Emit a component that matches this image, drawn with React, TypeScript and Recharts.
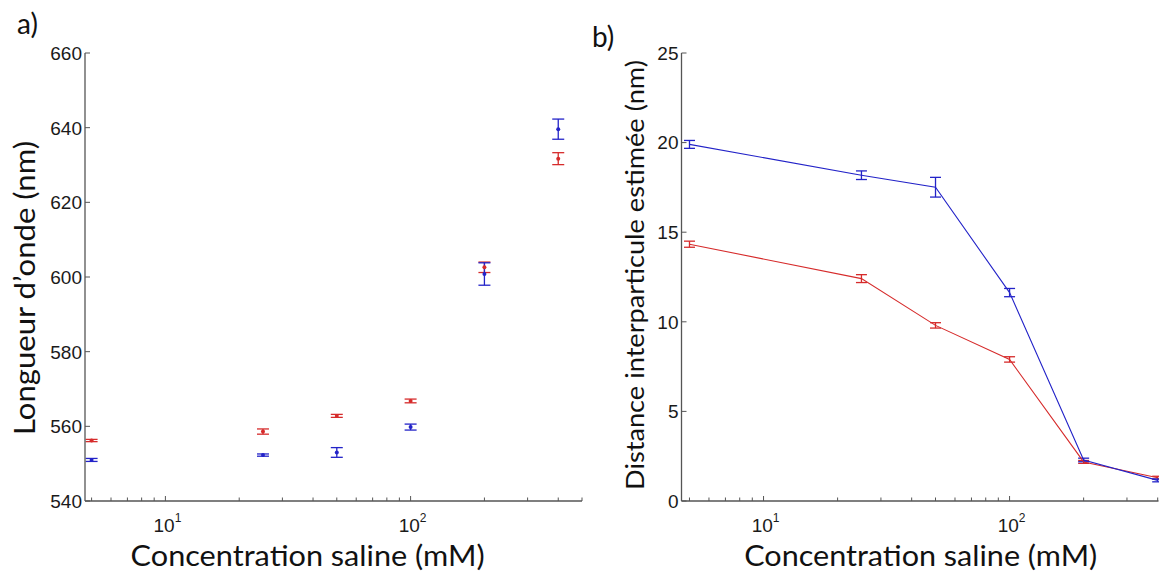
import React from 'react';
import { ComposedChart, Scatter, XAxis, YAxis, ErrorBar } from 'recharts';

// ---- data ----
const concentrations = [5, 25, 50, 100, 200, 400];

const wavelengthRed = [556.2, 558.6, 562.8, 566.8, 602.6, 631.7];
const wavelengthRedErr = [0.3, 0.7, 0.4, 0.5, 1.4, 1.6];
const wavelengthBlue = [551.0, 552.3, 553.0, 559.8, 600.8, 639.6];
const wavelengthBlueErr = [0.4, 0.3, 1.3, 0.8, 3.0, 2.7];

const distanceBlue = [19.9, 18.18, 17.51, 11.63, 2.29, 1.15];
const distanceBlueErr = [0.22, 0.24, 0.55, 0.23, 0.1, 0.08];
const distanceRed = [14.33, 12.41, 9.8, 7.9, 2.18, 1.3];
const distanceRedErr = [0.17, 0.22, 0.15, 0.15, 0.08, 0.08];

const majorXTicks = [10, 100];
const allXTicks = [5, 6, 7, 8, 9, 10, 20, 30, 40, 50, 60, 70, 80, 90, 100, 200, 300, 400, 500];
const wavelengthTicks = [540, 560, 580, 600, 620, 640, 660];
const distanceTicks = [0, 5, 10, 15, 20, 25];

const xLabel = 'Concentration saline (mM)';
const yLabelA = 'Longueur d\u2019onde (nm)';
const yLabelB = 'Distance interparticule estimée (nm)';

// ---- styles ----
const RED = '#d62b2b';
const BLUE = '#2323c8';
const AXIS = '#555555';
const TICK_FONT = 'Liberation Sans, Arial, sans-serif';
const LABEL_FONT = 'Lato, Open Sans, sans-serif';

const mk = (ys: number[], errs: number[]) =>
  concentrations.map((x, i) => ({ x, y: ys[i], err: errs[i] }));

const makeXTick = (side: 'bottom' | 'top') => (props: any) => {
  const { x, y, payload } = props;
  const v = payload.value;
  const major = majorXTicks.includes(v);
  const len = major ? 5 : 3.5;
  const dir = side === 'bottom' ? -1 : 1;
  const exp = Math.round(Math.log10(v));
  return (
    <g>
      <line x1={x} x2={x} y1={y} y2={y + dir * len} stroke={AXIS} strokeWidth={1} />
      {side === 'bottom' && major && (
        <text x={x + 2} y={y + 31} textAnchor="middle" fontFamily={TICK_FONT} fontSize={19} fill="#1a1a1a">
          10
          <tspan dy={-10} fontSize={12}>{exp}</tspan>
        </text>
      )}
    </g>
  );
};

const makeYTick = (side: 'left' | 'right') => (props: any) => {
  const { x, y, payload } = props;
  const dir = side === 'left' ? 1 : -1;
  return (
    <g>
      <line x1={x} x2={x + dir * 5} y1={y} y2={y} stroke={AXIS} strokeWidth={1} />
      {side === 'left' && (
        <text x={x - 3} y={y} dy="0.36em" textAnchor="end" fontFamily={TICK_FONT} fontSize={19} fill="#1a1a1a">
          {payload.value}
        </text>
      )}
    </g>
  );
};

const dot = (color: string) => (p: any) => <circle cx={p.cx} cy={p.cy} r={2} fill={color} />;
const noDot = () => <g />;

const axisLine = { stroke: AXIS, strokeWidth: 1.3 };

function Panel(props: {
  width: number;
  yWidth: number;
  rightMargin: number;
  xDomain: [number, number];
  yDomain: [number, number];
  yTicks: number[];
  series: { data: any[]; color: string; line: boolean; cap: number }[];
}) {
  const { width, yWidth, rightMargin, xDomain, yDomain, yTicks, series } = props;
  const xt = allXTicks.filter((t) => t >= xDomain[0] && t <= xDomain[1]);
  return (
    <ComposedChart width={width} height={573} margin={{ top: 53, right: rightMargin, bottom: 0, left: 0 }}>
      <XAxis
        xAxisId="b"
        dataKey="x"
        type="number"
        scale="log"
        domain={xDomain}
        allowDataOverflow
        ticks={xt}
        interval={0}
        orientation="bottom"
        height={72}
        tickSize={0}
        tickMargin={0}
        tickLine={false}
        axisLine={axisLine}
        tick={makeXTick('bottom')}
      />
      <XAxis
        xAxisId="t"
        dataKey="x"
        type="number"
        scale="log"
        domain={xDomain}
        allowDataOverflow
        ticks={xt}
        interval={0}
        orientation="top"
        height={0}
        tickSize={0}
        tickMargin={0}
        tickLine={false}
        axisLine={axisLine}
        tick={makeXTick('top')}
      />
      <YAxis
        yAxisId="l"
        dataKey="y"
        type="number"
        domain={yDomain}
        allowDataOverflow
        ticks={yTicks}
        interval={0}
        orientation="left"
        width={yWidth}
        tickSize={0}
        tickMargin={0}
        tickLine={false}
        axisLine={axisLine}
        tick={makeYTick('left')}
      />
      <YAxis
        yAxisId="r"
        dataKey="y"
        type="number"
        domain={yDomain}
        allowDataOverflow
        ticks={yTicks}
        interval={0}
        orientation="right"
        width={0}
        tickSize={0}
        tickMargin={0}
        tickLine={false}
        axisLine={axisLine}
        tick={makeYTick('right')}
      />
      {series.map((s, i) => (
        <Scatter
          key={i}
          xAxisId="b"
          yAxisId="l"
          data={s.data}
          dataKey="y"
          fill={s.color}
          shape={s.line ? noDot : dot(s.color)}
          line={s.line ? { stroke: s.color, strokeWidth: 1.1 } : false}
          lineType="joint"
          isAnimationActive={false}
        >
          <ErrorBar dataKey="err" direction="y" width={s.cap} stroke={s.color} strokeWidth={1.3} isAnimationActive={false} />
        </Scatter>
      ))}
    </ComposedChart>
  );
}

export default function App() {
  return (
    <div style={{ position: 'absolute', left: 0, top: 0, width: 1159, height: 573, overflow: 'hidden', background: '#fff' }}>
      <div style={{ position: 'absolute', left: 0, top: 0 }}>
        <Panel
          width={600}
          yWidth={85}
          rightMargin={18}
          xDomain={[4.7, 500]}
          yDomain={[540, 660]}
          yTicks={wavelengthTicks}
          series={[
            { data: mk(wavelengthRed, wavelengthRedErr), color: RED, line: false, cap: 6 },
            { data: mk(wavelengthBlue, wavelengthBlueErr), color: BLUE, line: false, cap: 6 },
          ]}
        />
      </div>
      <div style={{ position: 'absolute', left: 600, top: 0 }}>
        <Panel
          width={559}
          yWidth={81.5}
          rightMargin={0.5}
          xDomain={[4.64, 403]}
          yDomain={[0, 25]}
          yTicks={distanceTicks}
          series={[
            { data: mk(distanceRed, distanceRedErr), color: RED, line: true, cap: 5.5 },
            { data: mk(distanceBlue, distanceBlueErr), color: BLUE, line: true, cap: 5.5 },
          ]}
        />
      </div>
      <svg width={1159} height={573} style={{ position: 'absolute', left: 0, top: 0, pointerEvents: 'none' }}>
        <text x={17} y={34} fontFamily={LABEL_FONT} fontSize={28} fill="#111">a)</text>
        <text x={592} y={47} fontFamily={LABEL_FONT} fontSize={28} fill="#111">b)</text>
        <text x={307.6} y={566} textAnchor="middle" fontFamily={LABEL_FONT} fontSize={28} fill="#111" textLength={354} lengthAdjust="spacingAndGlyphs">
          {xLabel}
        </text>
        <text x={920.7} y={566} textAnchor="middle" fontFamily={LABEL_FONT} fontSize={28} fill="#111" textLength={353} lengthAdjust="spacingAndGlyphs">
          {xLabel}
        </text>
        <text x={35} y={288} transform="rotate(-90 35 288)" textAnchor="middle" fontFamily={LABEL_FONT} fontSize={28} fill="#111" textLength={294} lengthAdjust="spacingAndGlyphs">
          {yLabelA}
        </text>
        <text x={644} y={275} transform="rotate(-90 644 275)" textAnchor="middle" fontFamily={LABEL_FONT} fontSize={25} fill="#111" textLength={430} lengthAdjust="spacingAndGlyphs">
          {yLabelB}
        </text>
      </svg>
    </div>
  );
}
